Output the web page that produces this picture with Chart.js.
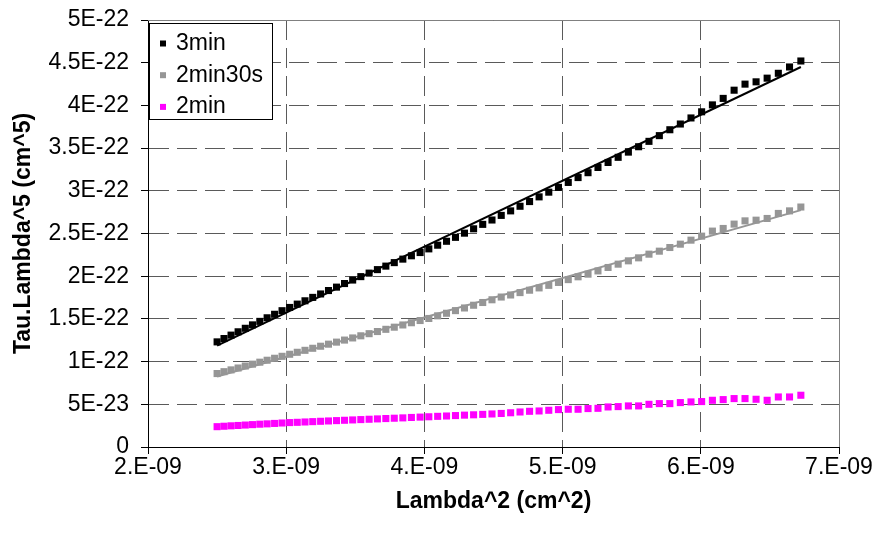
<!DOCTYPE html>
<html lang="en">
<head>
  <meta charset="UTF-8" />
  <title>Tau.Lambda^5 vs Lambda^2</title>
  <script src="https://cdn.jsdelivr.net/npm/chart.js"></script>
  <style>
    body {
      margin: 0;
      background: #fff;
    }

    canvas {
      display: block;
    }
  </style>
</head>
<body>
  <canvas id="tauChart" width="878" height="538"></canvas>

  <script>
    // Lambda^2, in units of 1E-09 cm^2 (one point every 5 nm, 500..820 nm)
    const lambdaSq = [
      2.500, 2.550, 2.601, 2.652, 2.704, 2.756, 2.809, 2.862, 2.916, 2.970,
      3.025, 3.080, 3.136, 3.192, 3.249, 3.306, 3.364, 3.422, 3.481, 3.540,
      3.600, 3.660, 3.721, 3.782, 3.844, 3.906, 3.969, 4.032, 4.096, 4.160,
      4.225, 4.290, 4.356, 4.422, 4.489, 4.556, 4.624, 4.692, 4.761, 4.830,
      4.900, 4.970, 5.041, 5.112, 5.184, 5.256, 5.329, 5.402, 5.476, 5.550,
      5.625, 5.700, 5.776, 5.852, 5.929, 6.006, 6.084, 6.162, 6.241, 6.320,
      6.400, 6.480, 6.561, 6.642, 6.724
    ];

    // Tau.Lambda^5, in units of 1E-22 cm^5
    const tau3min = [
      1.231, 1.270, 1.310, 1.349, 1.390, 1.430, 1.471, 1.513, 1.554, 1.596,
      1.634, 1.673, 1.712, 1.752, 1.792, 1.832, 1.872, 1.914, 1.955, 1.995,
      2.036, 2.077, 2.118, 2.159, 2.200, 2.239, 2.277, 2.320, 2.363, 2.409,
      2.455, 2.504, 2.555, 2.607, 2.658, 2.712, 2.765, 2.819, 2.874, 2.929,
      2.984, 3.040, 3.098, 3.155, 3.212, 3.273, 3.332, 3.392, 3.453, 3.516,
      3.579, 3.646, 3.715, 3.782, 3.853, 3.925, 4.006, 4.082, 4.178, 4.249,
      4.276, 4.319, 4.376, 4.450, 4.520
    ];
    const tau2min30s = [
      0.860, 0.882, 0.903, 0.925, 0.948, 0.970, 0.993, 1.016, 1.039, 1.062,
      1.086, 1.109, 1.132, 1.156, 1.180, 1.204, 1.228, 1.252, 1.277, 1.302,
      1.327, 1.352, 1.378, 1.403, 1.429, 1.455, 1.481, 1.505, 1.536, 1.566,
      1.597, 1.628, 1.660, 1.692, 1.724, 1.756, 1.780, 1.808, 1.836, 1.863,
      1.893, 1.927, 1.960, 1.993, 2.024, 2.062, 2.102, 2.141, 2.180, 2.215,
      2.258, 2.293, 2.336, 2.375, 2.422, 2.469, 2.528, 2.559, 2.610, 2.648,
      2.656, 2.676, 2.735, 2.765, 2.810
    ];
    const tau2min = [
      0.238, 0.243, 0.248, 0.252, 0.257, 0.262, 0.267, 0.271, 0.276, 0.281,
      0.286, 0.289, 0.293, 0.297, 0.301, 0.305, 0.309, 0.313, 0.317, 0.321,
      0.325, 0.329, 0.333, 0.337, 0.341, 0.346, 0.350, 0.354, 0.359, 0.363,
      0.368, 0.373, 0.377, 0.382, 0.387, 0.393, 0.401, 0.410, 0.418, 0.422,
      0.430, 0.438, 0.442, 0.442, 0.450, 0.453, 0.469, 0.473, 0.481, 0.481,
      0.500, 0.508, 0.508, 0.520, 0.528, 0.532, 0.547, 0.555, 0.567, 0.567,
      0.559, 0.547, 0.586, 0.586, 0.606
    ];

    const xTickLabels = ['2.E-09', '3.E-09', '4.E-09', '5.E-09', '6.E-09', '7.E-09'];
    const yTickLabels = ['0', '5E-23', '1E-22', '1.5E-22', '2E-22', '2.5E-22',
                         '3E-22', '3.5E-22', '4E-22', '4.5E-22', '5E-22'];

    const FONT = "'Liberation Sans', Arial, sans-serif";
    const GRID = '#5a5a5a';

    const toPoints = ys => lambdaSq.map((x, i) => ({ x: x, y: ys[i] }));

    // least-squares line over the data range, like the spreadsheet trendline
    function trendLine(xs, ys) {
      const n = xs.length;
      let sx = 0, sy = 0, sxx = 0, sxy = 0;
      for (let i = 0; i < n; i++) {
        sx += xs[i]; sy += ys[i];
        sxx += xs[i] * xs[i]; sxy += xs[i] * ys[i];
      }
      const b = (n * sxy - sx * sy) / (n * sxx - sx * sx);
      const a = (sy - b * sx) / n;
      return [xs[0], xs[n - 1]].map(x => ({ x: x, y: a + b * x }));
    }

    // top and right edge of the plot area
    const plotFrame = {
      id: 'plotFrame',
      beforeDatasetsDraw(chart) {
        const { ctx, chartArea: a } = chart;
        ctx.save();
        ctx.strokeStyle = '#808080';
        ctx.lineWidth = 1;
        ctx.beginPath();
        ctx.moveTo(a.left, a.top + 0.5);
        ctx.lineTo(a.right + 0.5, a.top + 0.5);
        ctx.lineTo(a.right + 0.5, a.bottom);
        ctx.stroke();
        ctx.restore();
      }
    };

    // boxed legend in the top-left corner of the plot
    const boxLegend = {
      id: 'boxLegend',
      afterDraw(chart) {
        const { ctx, chartArea: a } = chart;
        const items = chart.data.datasets.filter(d => d.inLegend);
        const left = a.left + 1, top = a.top + 3;
        ctx.save();
        ctx.fillStyle = '#fff';
        ctx.fillRect(left, top, 123, 96);
        ctx.strokeStyle = '#000';
        ctx.lineWidth = 1;
        ctx.strokeRect(left + 0.5, top + 0.5, 123, 96);
        ctx.font = '23px ' + FONT;
        ctx.textBaseline = 'middle';
        items.forEach((d, i) => {
          const y = top + 20.5 + i * 31.7;
          ctx.fillStyle = d.backgroundColor;
          ctx.fillRect(left + 11, y - 3, 6, 6);
          ctx.fillStyle = '#000';
          ctx.fillText(d.label, left + 27, y);
        });
        ctx.restore();
      }
    };

    const series = (label, ys, color) => ({
      label: label,
      data: toPoints(ys),
      inLegend: true,
      showLine: false,
      pointStyle: 'rect',
      pointRadius: 5,
      pointHoverRadius: 5,
      backgroundColor: color,
      borderColor: color,
      borderWidth: 0
    });

    const trend = (ys, color) => ({
      label: 'trend',
      data: trendLine(lambdaSq, ys),
      showLine: true,
      borderColor: color,
      borderWidth: 2,
      pointRadius: 0,
      fill: false
    });

    new Chart(document.getElementById('tauChart'), {
      type: 'scatter',
      data: {
        datasets: [
          trend(tau3min, '#000000'),
          trend(tau2min30s, '#969696'),
          series('3min', tau3min, '#000000'),
          series('2min30s', tau2min30s, '#969696'),
          series('2min', tau2min, '#ff00ff')
        ]
      },
      options: {
        responsive: false,
        animation: false,
        devicePixelRatio: 1,
        layout: { padding: { top: 20, right: 39, bottom: 0, left: 0 } },
        plugins: {
          legend: { display: false },
          tooltip: { enabled: false }
        },
        scales: {
          x: {
            type: 'linear',
            min: 2,
            max: 7,
            afterFit: s => { s.height = 91; },
            ticks: {
              stepSize: 1,
              autoSkip: false,
              maxRotation: 0,
              padding: 0,
              color: '#000',
              font: { family: FONT, size: 23 },
              callback: (v, i) => xTickLabels[i]
            },
            grid: {
              color: GRID,
              borderDash: [20, 8],
              tickLength: 7,
              tickColor: '#000',
              tickBorderDash: []
            },
            border: { display: true, color: '#000', width: 1, dash: [20, 8] },
            title: {
              display: true,
              text: 'Lambda^2 (cm^2)',
              color: '#000',
              font: { family: FONT, size: 23, weight: 'bold' },
              padding: { top: 0, bottom: 23 }
            }
          },
          y: {
            type: 'linear',
            min: 0,
            max: 5,
            afterFit: s => {
              s.width = 148;
              s.paddingTop = 0;
              s.paddingBottom = 0;
            },
            ticks: {
              stepSize: 0.5,
              autoSkip: false,
              padding: 12,
              color: '#000',
              font: { family: FONT, size: 23 },
              callback: (v, i) => yTickLabels[i]
            },
            grid: {
              color: GRID,
              borderDash: [20, 8],
              tickLength: 7,
              tickColor: '#000',
              tickBorderDash: []
            },
            border: { display: true, color: '#000', width: 1, dash: [20, 8] },
            title: {
              display: true,
              text: 'Tau.Lambda^5 (cm^5)',
              color: '#000',
              font: { family: FONT, size: 23, weight: 'bold' },
              padding: { top: 10, bottom: 0 }
            }
          }
        }
      },
      plugins: [plotFrame, boxLegend]
    });
  </script>
</body>
</html>
